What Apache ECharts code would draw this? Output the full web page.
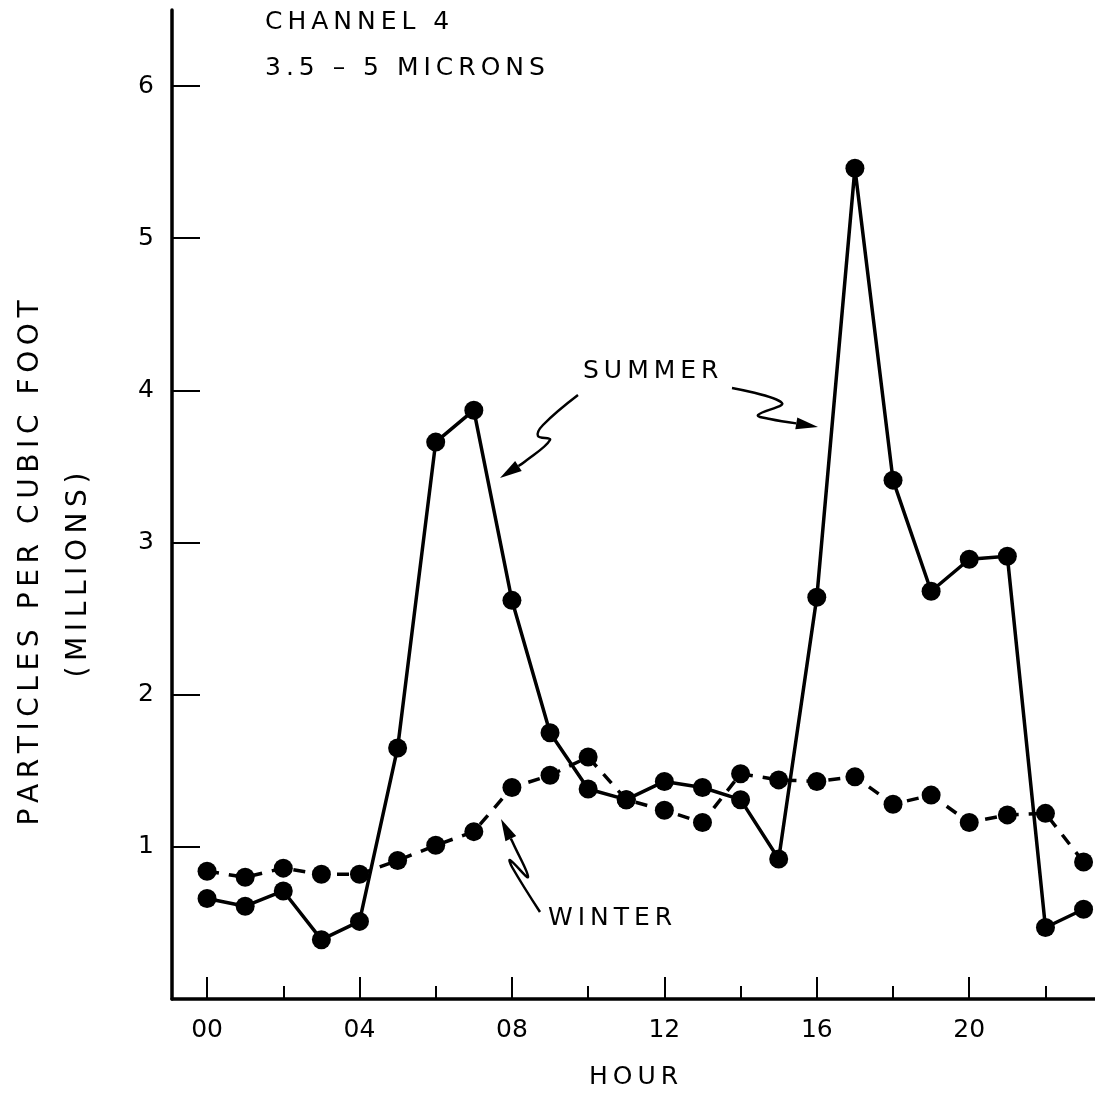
<!DOCTYPE html>
<html>
<head>
<meta charset="utf-8">
<script src="https://cdn.jsdelivr.net/npm/echarts@6/dist/echarts.min.js"></script>
<style>
  html, body { margin: 0; padding: 0; background: #ffffff; }
  #chart { width: 1095px; height: 1095px; }
</style>
</head>
<body>
<div id="chart"></div>
<script>
  // hours of day
  var hours = [0, 1, 2, 3, 4, 5, 6, 7, 8, 9, 10, 11, 12, 13, 14, 15, 16, 17, 18, 19, 20, 21, 22, 23]
  // particles per cubic foot, millions
  var summer = [0.66, 0.61, 0.71, 0.39, 0.51, 1.65, 3.66, 3.87, 2.62, 1.75, 1.38, 1.31,
                1.43, 1.39, 1.31, 0.92, 2.64, 5.46, 3.41, 2.68, 2.89, 2.91, 0.47, 0.59]
  var winter = [0.84, 0.80, 0.86, 0.82, 0.82, 0.91, 1.01, 1.10, 1.39, 1.47, 1.59, 1.31,
                1.24, 1.16, 1.48, 1.44, 1.43, 1.46, 1.28, 1.34, 1.16, 1.21, 1.22, 0.90]
  var majorHours = [0, 4, 8, 12, 16, 20]
  var minorHours = [2, 6, 10, 14, 18, 22]
  var yTicks = [1, 2, 3, 4, 5, 6]

  var font = 'DejaVu Sans'
  var ink = '#000000'

  var chart = echarts.init(document.getElementById('chart'))

  // wide lettering like the stencil text of the original
  function spaced (s) {
    return s.split('').join('\u2009')
  }

  function pad2 (v) {
    return (v < 10 ? '0' : '') + v
  }

  // squiggly annotation arrow: polyline + head
  function arrow (pts) {
    var a = pts[pts.length - 2]
    var b = pts[pts.length - 1]
    var ang = Math.atan2(b[1] - a[1], b[0] - a[0])
    var len = 22, w = 6
    var bx = b[0] - len * Math.cos(ang), by = b[1] - len * Math.sin(ang)
    var px = -Math.sin(ang) * w, py = Math.cos(ang) * w
    return [
      {
        type: 'polyline',
        shape: { points: pts.slice(0, -1).concat([[bx, by]]), smooth: 0.4 },
        style: { stroke: ink, lineWidth: 2.5, fill: null }
      },
      {
        type: 'polygon',
        shape: { points: [b, [bx + px, by + py], [bx - px, by - py]] },
        style: { fill: ink }
      }
    ]
  }

  var graphics = [
    { type: 'text', left: 265, top: 10, style: { text: spaced('CHANNEL 4'), font: '25px ' + font, fill: ink } },
    { type: 'text', left: 265, top: 56, style: { text: spaced('3.5 – 5 MICRONS'), font: '25px ' + font, fill: ink } },
    { type: 'text', left: 583, top: 359, style: { text: spaced('SUMMER'), font: '25px ' + font, fill: ink } },
    { type: 'text', left: 548, top: 906, style: { text: spaced('WINTER'), font: '25px ' + font, fill: ink } },
    // y axis title, two rotated lines
    {
      type: 'text', x: 31, y: 563, rotation: Math.PI / 2,
      style: { text: spaced('PARTICLES PER CUBIC FOOT'), font: '28px ' + font, fill: ink, align: 'center', verticalAlign: 'middle' }
    },
    {
      type: 'text', x: 79, y: 575, rotation: Math.PI / 2,
      style: { text: spaced('(MILLIONS)'), font: '28px ' + font, fill: ink, align: 'center', verticalAlign: 'middle' }
    }
  ]
  graphics = graphics
    .concat(arrow([[578, 395], [543, 425], [538, 436], [550, 440], [523, 463], [500, 478]]))
    .concat(arrow([[732, 388], [782, 403], [758, 415], [770, 419], [818, 427]]))
    .concat(arrow([[540, 912], [512, 867], [510, 860], [528, 877], [513, 843], [501, 819]]))

  var axisLine = { show: true, onZero: false, lineStyle: { color: ink, width: 3.5 } }

  chart.setOption({
    animation: false,
    backgroundColor: '#ffffff',
    grid: { left: 172, right: 0, top: 10, bottom: 96, containLabel: false, outerBoundsMode: 'none' },
    xAxis: [
      {
        type: 'value',
        min: -0.92,
        max: 23.3,
        name: spaced('HOUR'),
        nameLocation: 'middle',
        nameGap: 66,
        nameTextStyle: { fontFamily: font, fontSize: 25, color: ink },
        axisLine: axisLine,
        splitLine: { show: false },
        axisTick: { show: true, inside: true, length: 22, customValues: majorHours, lineStyle: { color: ink, width: 2 } },
        axisLabel: { show: true, customValues: majorHours, margin: 19, fontFamily: font, fontSize: 25, color: ink, formatter: pad2 }
      },
      {
        type: 'value',
        min: -0.92,
        max: 23.3,
        position: 'bottom',
        axisLine: { show: false },
        splitLine: { show: false },
        axisTick: { show: true, inside: true, length: 13, customValues: minorHours, lineStyle: { color: ink, width: 2 } },
        axisLabel: { show: false }
      }
    ],
    yAxis: {
      type: 'value',
      min: 0,
      max: 6.5,
      interval: 1,
      axisLine: axisLine,
      splitLine: { show: false },
      axisTick: { show: true, inside: true, length: 28, customValues: yTicks, lineStyle: { color: ink, width: 2 } },
      axisLabel: { show: true, customValues: yTicks, margin: 18, fontFamily: font, fontSize: 25, color: ink }
    },
    graphic: graphics,
    series: [
      {
        name: 'SUMMER',
        type: 'line',
        data: hours.map(function (h, i) { return [h, summer[i]] }),
        symbol: 'circle',
        symbolSize: 19,
        itemStyle: { color: ink },
        lineStyle: { color: ink, width: 3.5 },
        z: 3
      },
      {
        name: 'WINTER',
        type: 'line',
        data: hours.map(function (h, i) { return [h, winter[i]] }),
        symbol: 'circle',
        symbolSize: 19,
        itemStyle: { color: ink },
        lineStyle: { color: ink, width: 3.5, type: [12, 10] },
        z: 2
      }
    ]
  })
</script>
</body>
</html>
